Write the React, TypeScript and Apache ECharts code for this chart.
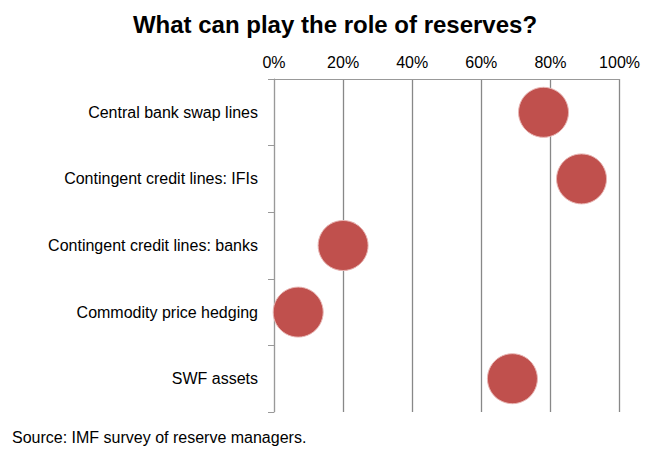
import React, { useEffect, useRef } from 'react';
import * as echarts from 'echarts';

const categories = [
  'Central bank swap lines',
  'Contingent credit lines: IFIs',
  'Contingent credit lines: banks',
  'Commodity price hedging',
  'SWF assets',
];
const values = [78, 89, 20, 7, 69];

export default function App() {
  const chartRef = useRef<HTMLDivElement>(null);

  useEffect(() => {
    if (!chartRef.current) return;
    const chart = echarts.init(chartRef.current, undefined, { renderer: 'svg' });
    const font = 'Liberation Sans, Arial, sans-serif';
    chart.setOption({
      animation: false,
      textStyle: { fontFamily: font },
      title: {
        text: 'What can play the role of reserves?',
        left: 322,
        top: -1,
        textAlign: 'center',
        textStyle: { fontSize: 24, fontWeight: 'bold', color: '#000', fontFamily: font },
      },
      graphic: [
        {
          type: 'text',
          left: 4,
          top: 421,
          style: { text: 'Source: IMF survey of reserve managers.', fontSize: 16, fill: '#000', fontFamily: font },
        },
      ],
      grid: { left: 266, right: 23, top: 71, bottom: 35 },
      xAxis: {
        type: 'value',
        position: 'top',
        min: 0,
        max: 100,
        interval: 20,
        axisLabel: { formatter: '{value}%', color: '#000', fontSize: 16, margin: 9 },
        axisLine: { show: true, lineStyle: { color: '#999' } },
        axisTick: { show: false },
        splitLine: { show: true, lineStyle: { color: '#888', width: 1.3 } },
      },
      yAxis: {
        type: 'category',
        data: categories,
        inverse: true,
        axisLabel: { color: '#000', fontSize: 16, margin: 16 },
        axisLine: { show: true, lineStyle: { color: '#999' } },
        axisTick: { show: true, length: 6, lineStyle: { color: '#999' } },
      },
      series: [
        {
          type: 'scatter',
          data: values,
          symbolSize: 50,
          itemStyle: { color: '#c0504d', opacity: 1, borderColor: '#e8b6b4', borderWidth: 1 },
        },
      ],
    });
    return () => chart.dispose();
  }, []);

  return <div ref={chartRef} style={{ width: 635, height: 439 }} />;
}
